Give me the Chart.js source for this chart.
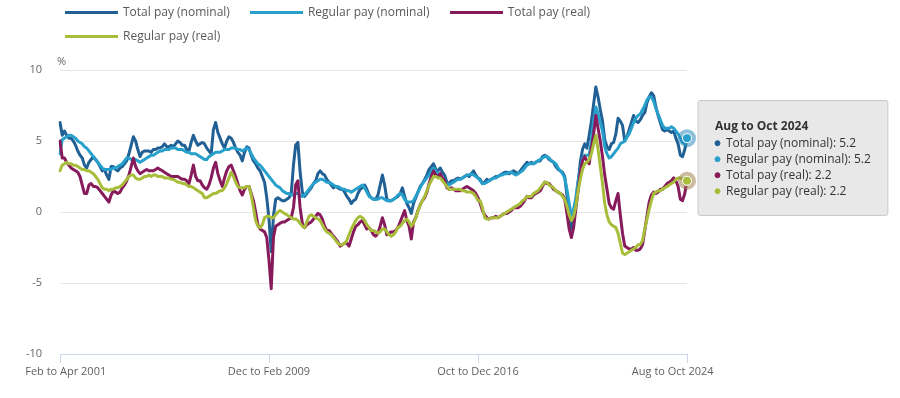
<!DOCTYPE html>
<html>
<head>
<meta charset="utf-8">
<script src="https://cdn.jsdelivr.net/npm/chart.js@4.4.1/dist/chart.umd.min.js"></script>
<style>
  html, body { margin: 0; padding: 0; background: #fff; }
  #wrap { position: relative; width: 900px; height: 398px; }
  #legend {
    position: absolute; left: 0; top: 0; width: 700px; box-sizing: border-box; padding-left: 65px;
    display: flex; flex-wrap: wrap; column-gap: 20px;
    font: 12px 'Open Sans', sans-serif; color: #595959; line-height: 24px;
  }
  #legend .item { display: inline-flex; align-items: center; white-space: nowrap; }
  #legend .swatch { width: 53px; height: 3px; margin-right: 5px; }
</style>
</head>
<body>
<div id="wrap">
  <canvas id="chart" width="900" height="398"></canvas>
  <div id="legend"></div>
</div>
<script>
// Average weekly earnings growth, 3-month average, % — Feb to Apr 2001 .. Aug to Oct 2024.
// One row per calendar year of the period's last month (2001 starts at Apr, 2024 stops at Oct).

const MONTHS = ['Jan', 'Feb', 'Mar', 'Apr', 'May', 'Jun', 'Jul', 'Aug', 'Sep', 'Oct', 'Nov', 'Dec'];
const tickLabels = ['Feb to Apr 2001', 'Dec to Feb 2009', 'Oct to Dec 2016', 'Aug to Oct 2024'];

const totalNominal = [
  6.3, 5.4, 5.7, 5.4, 5.2, 5.2, 5.0, 4.7, 4.3,
  4.0, 3.8, 3.3, 3.1, 3.5, 3.7, 3.9, 3.7, 3.5, 3.2, 2.9, 3.0,
  2.6, 2.3, 3.2, 3.2, 3.0, 2.9, 3.1, 3.2, 3.4, 3.6, 4.1, 4.7,
  5.3, 5.0, 4.4, 3.9, 4.2, 4.3, 4.3, 4.3, 4.2, 4.4, 4.4, 4.5,
  4.5, 4.6, 4.8, 4.6, 4.6, 4.7, 4.6, 4.8, 5.0, 4.9, 4.7, 4.7,
  4.4, 4.3, 4.9, 5.4, 5.0, 4.7, 4.8, 4.9, 4.8, 4.5, 4.3, 4.1,
  5.8, 6.3, 5.6, 5.2, 4.8, 4.5, 5.0, 5.3, 5.2, 4.9, 4.5, 4.2,
  4.0, 3.6, 4.2, 4.6, 4.5, 4.0, 3.6, 3.4, 3.1, 2.9, 2.5, 2.1,
  1.0, -0.5, -2.8, -0.3, 0.9, 1.0, 0.9, 0.8, 0.8, 0.9, 1.0, 1.3,
  3.3, 4.7, 4.9, 2.8, 1.4, 1.1, 1.3, 1.5, 1.7, 2.0, 2.2, 2.7,
  2.9, 2.7, 2.6, 2.3, 2.1, 1.9, 1.7, 1.8, 1.7, 1.6, 1.6, 1.4,
  1.1, 0.9, 0.6, 0.8, 0.9, 1.3, 1.6, 1.7, 1.9, 1.6, 1.2, 1.0,
  0.9, 0.9, 1.2, 1.9, 2.6, 1.9, 0.9, 0.8, 0.8, 0.9, 1.0, 1.1,
  1.3, 1.7, 1.1, 0.6, 0.3, -0.1, 0.6, 1.0, 1.4, 1.8, 2.0, 2.3,
  2.6, 3.0, 3.2, 3.4, 3.0, 2.9, 3.1, 2.8, 2.6, 2.1, 2.0, 2.2,
  2.2, 2.3, 2.4, 2.3, 2.4, 2.5, 2.6, 2.5, 2.7, 2.9, 2.6, 2.4,
  2.3, 2.0, 2.1, 2.3, 2.2, 2.3, 2.4, 2.5, 2.5, 2.6, 2.7, 2.8,
  2.8, 2.7, 2.8, 2.9, 2.8, 2.7, 2.9, 3.1, 3.3, 3.5, 3.4, 3.5,
  3.4, 3.5, 3.6, 3.6, 3.9, 4.0, 3.9, 3.7, 3.6, 3.5, 3.2, 3.0,
  2.9, 2.8, 2.5, 1.2, -0.3, -1.2, -0.6, 0.7, 2.0, 3.5, 4.4, 4.8,
  4.5, 5.4, 6.4, 7.6, 8.8, 8.1, 7.2, 6.4, 5.1, 4.6, 4.4, 4.8,
  4.9, 5.5, 6.6, 6.4, 6.1, 5.0, 5.3, 5.8, 6.3, 6.8, 6.4, 6.3,
  6.5, 6.8, 7.0, 7.7, 8.1, 8.4, 8.2, 7.4, 6.8, 6.3, 5.8, 5.7,
  5.8, 5.7, 5.6, 5.7, 5.2, 4.8, 4.0, 3.9, 4.4, 5.2,
];

const regularNominal = [
  4.1, 5.1, 5.2, 5.3, 5.4, 5.4, 5.3, 5.2, 5.0,
  4.9, 4.8, 4.6, 4.5, 4.3, 4.1, 3.9, 3.7, 3.5, 3.3, 3.1, 3.0,
  3.0, 3.0, 3.0, 3.1, 3.1, 3.2, 3.3, 3.4, 3.6, 3.8, 3.8, 3.7,
  3.7, 3.7, 3.6, 3.5, 3.6, 3.7, 3.8, 3.9, 4.0, 4.0, 4.1, 4.2,
  4.3, 4.3, 4.4, 4.4, 4.4, 4.5, 4.5, 4.5, 4.4, 4.4, 4.4, 4.3,
  4.2, 4.2, 4.1, 4.1, 4.1, 4.0, 3.9, 3.8, 3.7, 3.7, 3.9, 4.0,
  4.1, 4.2, 4.2, 4.2, 4.3, 4.4, 4.4, 4.4, 4.5, 4.5, 4.5, 4.4,
  4.4, 4.3, 4.4, 4.5, 4.4, 4.1, 3.8, 3.6, 3.4, 3.3, 3.1, 2.9,
  2.7, 2.5, 2.3, 2.1, 1.9, 1.8, 1.7, 1.5, 1.4, 1.3, 1.3, 1.2,
  1.2, 1.3, 1.3, 1.2, 1.1, 1.2, 1.4, 1.6, 1.8, 2.0, 2.1, 2.2,
  2.3, 2.3, 2.2, 2.1, 2.1, 2.0, 1.9, 1.8, 1.8, 1.7, 1.6, 1.6,
  1.5, 1.5, 1.4, 1.5, 1.6, 1.7, 1.8, 1.9, 1.7, 1.4, 1.1, 1.0,
  0.9, 0.9, 0.9, 1.0, 1.0, 0.9, 0.8, 0.8, 0.8, 0.9, 1.0, 1.2,
  1.3, 1.2, 0.9, 0.7, 0.7, 0.7, 0.8, 1.1, 1.4, 1.7, 2.0, 2.2,
  2.4, 2.6, 2.9, 3.1, 2.9, 2.7, 2.5, 2.3, 2.1, 2.0, 1.9, 2.0,
  2.1, 2.2, 2.3, 2.3, 2.4, 2.5, 2.6, 2.6, 2.7, 2.6, 2.5, 2.4,
  2.2, 2.0, 2.0, 2.1, 2.2, 2.3, 2.4, 2.4, 2.5, 2.6, 2.6, 2.7,
  2.7, 2.8, 2.8, 2.7, 2.6, 2.7, 2.8, 2.9, 3.1, 3.3, 3.4, 3.4,
  3.4, 3.5, 3.6, 3.7, 3.8, 3.9, 3.9, 3.8, 3.6, 3.5, 3.4, 3.1,
  2.9, 2.7, 2.4, 1.6, 0.6, -0.3, 0.2, 1.0, 2.2, 3.0, 3.7, 4.0,
  4.0, 4.0, 5.0, 6.4, 7.4, 6.9, 6.3, 5.7, 4.6, 4.1, 3.8, 3.9,
  4.1, 4.3, 4.5, 4.8, 4.9, 5.0, 5.3, 5.5, 5.9, 6.3, 6.6, 6.8,
  6.9, 7.2, 7.5, 7.9, 8.1, 8.1, 7.8, 7.3, 6.9, 6.5, 6.1, 5.9,
  5.9, 5.9, 6.0, 5.9, 5.7, 5.5, 5.2, 4.9, 4.8, 5.2,
];

const totalReal = [
  5.0, 3.8, 3.8, 3.5, 3.3, 3.1, 3.0, 2.9, 2.8,
  2.5, 1.9, 1.3, 1.3, 1.9, 2.0, 1.8, 1.8, 1.7, 1.5, 1.3, 1.1,
  0.9, 0.7, 1.2, 1.5, 1.4, 1.3, 1.4, 1.7, 1.9, 2.2, 2.6, 3.2,
  3.8, 3.2, 2.9, 2.7, 2.8, 2.9, 3.0, 2.9, 2.9, 2.9, 3.0, 3.1,
  3.0, 2.9, 2.8, 2.7, 2.6, 2.5, 2.5, 2.5, 2.5, 2.4, 2.3, 2.3,
  2.2, 2.0, 2.6, 3.3, 2.5, 2.2, 2.2, 1.9, 1.7, 1.6, 1.9, 2.4,
  3.1, 3.5, 2.7, 2.2, 1.8, 2.4, 2.9, 3.2, 3.3, 2.9, 2.5, 2.0,
  1.5, 1.2, 1.6, 1.8, 1.8, 1.3, 0.8, 0.0, -0.9, -1.2, -1.3, -1.4,
  -1.8, -3.4, -5.4, -1.8, -1.0, -0.9, -0.8, -0.7, -0.7, -0.6, -0.5, -0.4,
  0.3, 1.9, 2.2, 0.3, -0.8, -1.1, -0.9, -0.8, -0.7, -0.5, -0.3, -0.1,
  -0.2, -0.5, -1.0, -1.3, -1.3, -1.5, -1.7, -1.9, -2.1, -2.4, -2.3, -2.2,
  -2.2, -2.4, -1.9, -1.4, -1.0, -0.9, -0.7, -0.6, -0.9, -1.2, -1.1, -1.3,
  -1.6, -1.7, -1.5, -1.0, -0.4, -0.9, -1.6, -1.5, -1.4, -1.4, -1.3, -1.1,
  -0.7, -0.3, 0.1, -0.6, -1.0, -1.9, -0.7, -0.4, 0.1, 0.5, 0.8, 1.0,
  1.4, 2.0, 2.5, 2.9, 2.6, 2.5, 2.7, 2.4, 2.2, 1.7, 1.6, 1.7,
  1.6, 1.5, 1.5, 1.5, 1.6, 1.7, 1.8, 1.7, 1.6, 1.5, 1.3, 1.0,
  0.6, 0.1, -0.2, -0.4, -0.5, -0.4, -0.4, -0.3, -0.4, -0.3, -0.2, -0.1,
  -0.1, 0.0, 0.1, 0.3, 0.3, 0.3, 0.4, 0.6, 0.8, 1.1, 1.0, 1.0,
  1.2, 1.3, 1.4, 1.5, 1.8, 2.1, 2.0, 2.0, 1.8, 1.6, 1.5, 1.4,
  1.3, 1.2, 0.9, -0.1, -1.2, -1.8, -1.1, 0.2, 1.5, 2.8, 3.6, 3.9,
  3.6, 3.4, 4.5, 5.5, 6.8, 5.9, 5.0, 3.9, 2.6, 1.6, 0.6, 0.3,
  0.2, 0.8, 1.3, -0.2, -1.5, -2.4, -2.5, -2.6, -2.6, -2.5, -2.7, -2.7,
  -2.6, -2.3, -1.3, -0.3, 0.7, 1.2, 1.4, 1.3, 1.4, 1.6, 1.6, 1.8,
  2.0, 2.1, 2.2, 2.4, 2.2, 1.8, 0.9, 0.8, 1.3, 2.2,
];

const regularReal = [
  2.9, 3.3, 3.4, 3.5, 3.4, 3.4, 3.3, 3.3, 3.2,
  3.1, 3.0, 3.0, 2.9, 2.9, 2.8, 2.7, 2.5, 2.3, 2.0, 1.7, 1.6,
  1.6, 1.5, 1.6, 1.6, 1.7, 1.7, 1.8, 1.9, 2.1, 2.3, 2.5, 2.6,
  2.6, 2.4, 2.3, 2.3, 2.4, 2.5, 2.5, 2.6, 2.5, 2.6, 2.6, 2.5,
  2.5, 2.5, 2.4, 2.4, 2.4, 2.3, 2.3, 2.2, 2.1, 2.1, 2.0, 2.0,
  1.9, 1.8, 1.8, 1.7, 1.6, 1.5, 1.4, 1.3, 1.0, 1.0, 1.1, 1.2,
  1.3, 1.3, 1.4, 1.5, 1.5, 1.7, 2.0, 2.4, 2.8, 2.5, 2.1, 1.8,
  1.7, 1.7, 1.7, 1.8, 1.8, 1.2, 0.3, -0.6, -1.0, -1.1, -0.9, -0.4,
  -0.3, -0.3, -0.4, -0.4, -0.2, 0.0, 0.1, 0.0, -0.1, -0.2, -0.3, -0.4,
  -0.5, -0.5, -0.6, -0.8, -1.0, -1.1, -0.7, -0.3, -0.2, -0.3, -0.4, -0.5,
  -0.6, -0.9, -1.2, -1.4, -1.5, -1.6, -1.8, -2.0, -2.2, -2.3, -2.3, -2.2,
  -2.0, -1.6, -1.2, -0.9, -0.6, -0.4, -0.3, -0.4, -0.6, -0.9, -1.1, -1.3,
  -1.3, -1.4, -1.5, -1.4, -1.2, -1.2, -1.4, -1.6, -1.7, -1.6, -1.4, -1.1,
  -1.0, -0.8, -0.6, -0.5, -0.7, -1.0, -0.8, -0.4, 0.1, 0.5, 0.8, 1.1,
  1.5, 1.9, 2.2, 2.5, 2.5, 2.4, 2.4, 2.2, 2.0, 1.8, 1.6, 1.6,
  1.6, 1.6, 1.6, 1.6, 1.5, 1.5, 1.4, 1.4, 1.4, 1.3, 1.1, 0.8,
  0.8, 0.3, -0.4, -0.5, -0.5, -0.4, -0.4, -0.4, -0.4, -0.3, -0.2, -0.1,
  0.0, 0.1, 0.2, 0.3, 0.4, 0.5, 0.6, 0.8, 0.9, 1.1, 1.1, 1.1,
  1.3, 1.4, 1.5, 1.7, 1.9, 2.1, 2.1, 1.9, 1.8, 1.7, 1.5, 1.4,
  1.3, 1.1, 0.9, 0.4, -0.2, -0.6, -0.3, 0.4, 1.5, 2.3, 3.0, 3.4,
  3.5, 3.7, 4.1, 4.8, 5.4, 4.4, 3.2, 2.0, 0.6, -0.2, -0.7, -0.9,
  -1.0, -1.1, -1.5, -2.2, -2.9, -3.0, -2.9, -2.8, -2.7, -2.6, -2.5, -2.3,
  -2.3, -2.0, -1.2, -0.5, 0.2, 0.8, 1.3, 1.4, 1.5, 1.5, 1.6, 1.7,
  1.8, 1.9, 2.0, 2.1, 2.3, 2.4, 2.4, 2.3, 2.0, 2.2,
];

// Rolling 3-month periods, labelled by their first and last month.
const periods = totalNominal.map((_, i) => {
  const end = 3 + i;                       // month index counted from Jan 2001
  return `${MONTHS[(end + 10) % 12]} to ${MONTHS[end % 12]} ${2001 + Math.floor(end / 12)}`;
});

const series = [
  { label: 'Total pay (nominal)',   data: totalNominal,   color: '#206095' },
  { label: 'Regular pay (nominal)', data: regularNominal, color: '#27a0cc' },
  { label: 'Total pay (real)',      data: totalReal,      color: '#871a5b' },
  { label: 'Regular pay (real)',    data: regularReal,    color: '#a8bd3a' },
];

const FONT = "'Open Sans', sans-serif";
const fade = (hex, a) => {
  const n = parseInt(hex.slice(1), 16);
  return `rgba(${n >> 16}, ${(n >> 8) & 255}, ${n & 255}, ${a})`;
};

// Edge labels sit inside the plot like the original; pad with spaces to nudge them.
const edgePad = { 'Feb to Apr 2001': ['    ', ''], 'Aug to Oct 2024': ['', '          '] };

// HTML legend (two rows, line swatches).
const legendEl = document.getElementById('legend');
series.forEach((s) => {
  const item = document.createElement('span');
  item.className = 'item';
  const sw = document.createElement('span');
  sw.className = 'swatch';
  sw.style.background = s.color;
  item.append(sw, s.label);
  legendEl.append(item);
});

// "%" unit above the y axis.
const unitLabel = {
  id: 'unitLabel',
  afterDraw(chart) {
    const { ctx, chartArea } = chart;
    ctx.save();
    ctx.font = `11px ${FONT}`;
    ctx.fillStyle = '#666';
    ctx.textAlign = 'left';
    ctx.textBaseline = 'middle';
    ctx.fillText('%', chartArea.left - 3, chartArea.top - 8);
    ctx.restore();
  },
};

// Highlighted last points: soft halo + dot.
const activeHalo = {
  id: 'activeHalo',
  afterDatasetsDraw(chart) {
    const { ctx } = chart;
    ctx.save();
    chart.getActiveElements().forEach(({ datasetIndex, element }) => {
      const c = series[datasetIndex].color;
      ctx.beginPath();
      ctx.arc(element.x, element.y, 9, 0, Math.PI * 2);
      ctx.fillStyle = fade(c, 0.3);
      ctx.fill();
      ctx.beginPath();
      ctx.arc(element.x, element.y, 4.5, 0, Math.PI * 2);
      ctx.fillStyle = c;
      ctx.fill();
      ctx.lineWidth = 1;
      ctx.strokeStyle = '#fff';
      ctx.stroke();
    });
    ctx.restore();
  },
};

Chart.Tooltip.positioners.pinned = function () {
  const a = this.chart.chartArea;
  return { x: a.right + 11, y: a.top + 88 };
};

Chart.defaults.font.family = FONT;

const chart = new Chart(document.getElementById('chart'), {
  type: 'line',
  data: {
    labels: periods,
    datasets: series.map((s, i) => ({
      label: s.label,
      data: s.data,
      borderColor: s.color,
      backgroundColor: s.color,
      borderWidth: 3,
      borderJoinStyle: 'round',
      borderCapStyle: 'round',
      pointRadius: 0,
      pointHoverRadius: 0,
      tension: 0,
      order: series.length - i,          // later series drawn on top
    })),
  },
  options: {
    responsive: false,
    animation: false,
    events: [],
    devicePixelRatio: 1,
    layout: { padding: { top: 70, right: 213, bottom: 0, left: 0 } },
    plugins: {
      legend: { display: false },
      tooltip: {
        position: 'pinned',
        xAlign: 'left',
        yAlign: 'center',
        caretSize: 0,
        caretPadding: 0,
        backgroundColor: 'rgba(231, 231, 231, 0.96)',
        borderColor: '#c8c8c8',
        borderWidth: 1,
        cornerRadius: 2,
        padding: { top: 19, right: 17, bottom: 17, left: 17 },
        titleFont: { family: FONT, size: 12, weight: 'bold' },
        titleColor: '#333',
        titleMarginBottom: 2,
        bodyFont: { family: FONT, size: 12 },
        bodyColor: '#333',
        bodySpacing: 1.6,
        displayColors: true,
        usePointStyle: true,
        boxWidth: 5,
        boxHeight: 5,
        boxPadding: 4,
        multiKeyBackground: 'rgba(0,0,0,0)',
        callbacks: {
          title: (items) => periods[items[0].dataIndex],
          label: (c) => `${c.dataset.label}: ${c.parsed.y}`,
          labelColor: (c) => ({ borderColor: c.dataset.borderColor, backgroundColor: c.dataset.borderColor }),
          labelPointStyle: () => ({ pointStyle: 'circle', rotation: 0 }),
        },
      },
    },
    scales: {
      x: {
        type: 'category',
        afterBuildTicks: (s) => { s.ticks = s.ticks.filter((t) => tickLabels.includes(periods[t.value])); },
        afterFit: (s) => { s.height = 44; },
        grid: { drawOnChartArea: false, drawTicks: true, tickLength: 9, color: '#ccd6eb' },
        border: { color: '#ccd6eb', width: 1 },
        ticks: {
          autoSkip: false,
          maxRotation: 0,
          padding: 2,
          color: '#5f5f5f',
          font: { family: FONT, size: 11 },
          callback(value) {
            const l = this.getLabelForValue(value);
            const [pre, post] = edgePad[l] || ['', ''];
            return pre + l + post;
          },
        },
      },
      y: {
        min: -10,
        max: 10,
        afterFit: (s) => { s.width = 60; },
        grid: { color: '#e6e6e6', drawTicks: false },
        border: { display: false },
        ticks: { stepSize: 5, padding: 18, color: '#666', font: { family: FONT, size: 11 } },
      },
    },
  },
  plugins: [unitLabel, activeHalo],
});

// Pin the hover state on the latest period (Aug to Oct 2024).
const lastIdx = periods.length - 1;
const active = series.map((_, i) => ({ datasetIndex: i, index: lastIdx }));
chart.setActiveElements(active);
chart.tooltip.setActiveElements(active, { x: 0, y: 0 });
chart.update();
</script>
</body>
</html>
